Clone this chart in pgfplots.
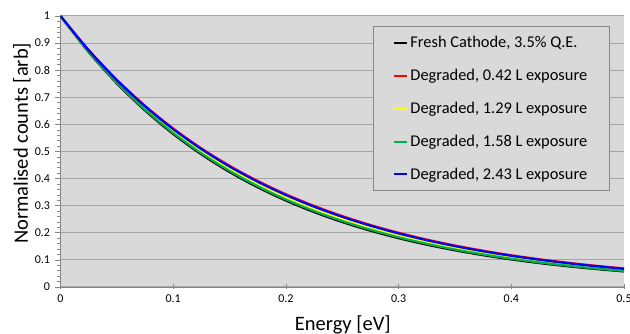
\documentclass[border=0pt]{standalone}
\usepackage{pgfplots}
\pgfplotsset{compat=1.18}
\usepackage{fontspec}
\setmainfont{Carlito}
\definecolor{bg}{HTML}{D9D9D9}
\definecolor{gridc}{HTML}{A6A6A6}
\definecolor{axisgray}{HTML}{868686}
\definecolor{xlgreen}{HTML}{00B050}
\definecolor{xlyellow}{HTML}{FFFF00}
\definecolor{xlred}{HTML}{FF0000}
\definecolor{xlblue}{HTML}{0000FF}
\newcommand{\lf}{\fontsize{16.4}{19}\selectfont}
\newcommand{\tf}{\fontsize{12}{14}\selectfont}
\begin{document}
\begin{tikzpicture}
\useasboundingbox (-60.5pt,-47pt) rectangle (569.5pt,287pt);
\begin{axis}[
  scale only axis, width=563.5pt, height=271pt,
  at={(0,0)}, anchor=south west,
  xmin=0, xmax=0.5, ymin=0, ymax=1,
  axis lines=left,
  axis line style={-, draw=axisgray, line width=0.8pt},
  axis background/.style={fill=bg},
  xtick={0,0.1,0.2,0.3,0.4,0.5},
  ytick={0,0.1,0.2,0.3,0.4,0.5,0.6,0.7,0.8,0.9,1},
  minor y tick num=4,
  xtick align=center, ytick align=outside,
  major tick length=5pt, minor tick length=3pt,
  tick style={draw=axisgray, line width=0.6pt},
  ymajorgrids,
  major grid style={draw=gridc, line width=1pt},
  /pgf/number format/assume math mode=true,
  xticklabel={\tf\pgfmathprintnumber{\tick}},
  yticklabel={\tf\pgfmathprintnumber{\tick}},
  xticklabel style={yshift=-2pt},
  yticklabel style={xshift=-2pt},
  xlabel={\fontsize{20.5}{24}\selectfont Energy [eV]},
  ylabel={\fontsize{20.5}{24}\selectfont Normalised counts [arb]},
  xlabel style={at={(axis description cs:0.501,-0.159)}, anchor=base},
  ylabel style={at={(axis description cs:-0.0577,0.53)}, anchor=base},
  legend cell align=left,
  legend image code/.code={\draw[#1, line width=2pt] (0pt,0pt) -- (13pt,0pt);},
  legend style={at={(axis description cs:0.5546,0.963)}, anchor=north west,
    fill=bg, draw=axisgray, line width=0.8pt,
    inner xsep=20pt, inner ysep=8pt, row sep=16pt},
  every axis plot/.append style={line width=2.2pt, smooth},
]
\addplot[black] coordinates {
(0,1) (0.025,0.86688) (0.05,0.75148) (0.075,0.65144) (0.1,0.56472) (0.125,0.48955)
(0.15,0.42438) (0.175,0.36789) (0.2,0.31891) (0.225,0.27645) (0.25,0.23965)
(0.275,0.20775) (0.3,0.18010) (0.325,0.15612) (0.35,0.13534) (0.375,0.11732)
(0.4,0.10170) (0.425,0.08816) (0.45,0.07643) (0.475,0.06626) (0.5,0.05743)};
\addlegendentry{\lf Fresh Cathode, 3.5\% Q.E.}
\addplot[xlred] coordinates {
(0,1) (0.025,0.87455) (0.05,0.76483) (0.075,0.66888) (0.1,0.58497) (0.125,0.51158)
(0.15,0.44741) (0.175,0.39128) (0.2,0.34219) (0.225,0.29926) (0.25,0.26172)
(0.275,0.22889) (0.3,0.20017) (0.325,0.17506) (0.35,0.15310) (0.375,0.13389)
(0.4,0.11710) (0.425,0.10240) (0.45,0.08956) (0.475,0.07832) (0.5,0.06850)};
\addlegendentry{\lf Degraded, 0.42 L exposure}
\addplot[xlyellow] coordinates {
(0,1) (0.025,0.87033) (0.05,0.75747) (0.075,0.65924) (0.1,0.57375) (0.125,0.49935)
(0.15,0.43460) (0.175,0.37824) (0.2,0.32919) (0.225,0.28651) (0.25,0.24935)
(0.275,0.21702) (0.3,0.18888) (0.325,0.16439) (0.35,0.14307) (0.375,0.12452)
(0.4,0.10837) (0.425,0.09432) (0.45,0.08209) (0.475,0.07144) (0.5,0.06218)};
\addlegendentry{\lf Degraded, 1.29 L exposure}
\addplot[xlgreen] coordinates {
(0,1) (0.025,0.86828) (0.05,0.75391) (0.075,0.65460) (0.1,0.56838) (0.125,0.49351)
(0.15,0.42850) (0.175,0.37206) (0.2,0.32305) (0.225,0.28050) (0.25,0.24355)
(0.275,0.21147) (0.3,0.18361) (0.325,0.15943) (0.35,0.13843) (0.375,0.12019)
(0.4,0.10436) (0.425,0.09061) (0.45,0.07867) (0.475,0.06831) (0.5,0.05931)};
\addlegendentry{\lf Degraded, 1.58 L exposure}
\addplot[xlblue] coordinates {
(0,1) (0.025,0.87360) (0.05,0.76317) (0.075,0.66671) (0.1,0.58243) (0.125,0.50881)
(0.15,0.44450) (0.175,0.38831) (0.2,0.33923) (0.225,0.29635) (0.25,0.25889)
(0.275,0.22617) (0.3,0.19758) (0.325,0.17260) (0.35,0.15079) (0.375,0.13173)
(0.4,0.11508) (0.425,0.10053) (0.45,0.08782) (0.475,0.07672) (0.5,0.06703)};
\addlegendentry{\lf Degraded, 2.43 L exposure}
\end{axis}
\end{tikzpicture}
\end{document}
